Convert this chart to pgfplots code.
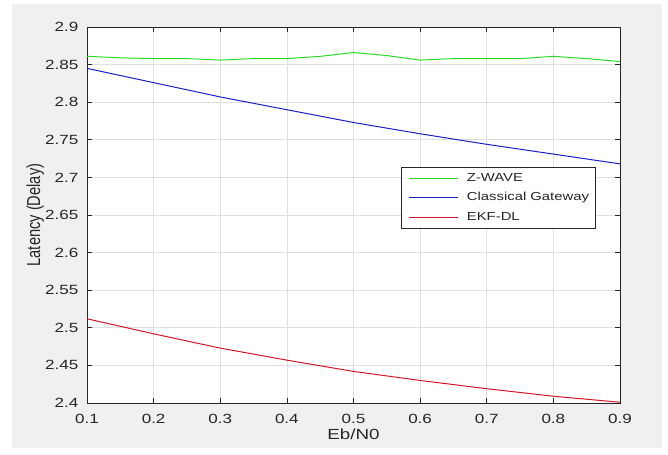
\documentclass[border=0pt]{standalone}
\usepackage{pgfplots}
\pgfplotsset{compat=1.18}
\usepackage{graphicx}
\usepackage{fontspec}
\setmainfont[FakeStretch=1.28]{Liberation Sans}
\newfontfamily\plainfont{Liberation Sans}
\definecolor{figgrey}{RGB}{240,240,240}
\definecolor{axgrey}{RGB}{38,38,38}
\definecolor{gridgrey}{RGB}{223,223,223}
\definecolor{mgreen}{RGB}{40,220,40}
\definecolor{mblue}{RGB}{30,30,200}
\definecolor{mred}{RGB}{215,20,40}
\begin{document}
\begin{tikzpicture}
\path[use as bounding box] (-65.25pt,-38.25pt) rectangle (435.75pt,302.25pt);
\fill[figgrey] (-56.25pt,-33.75pt) rectangle (431.25pt,299.25pt);
\begin{axis}[
  at={(0pt,0pt)}, anchor=south west,
  scale only axis, width=399.75pt, height=282pt,
  xmin=0.1, xmax=0.9, ymin=2.4, ymax=2.9,
  xtick={0.1,0.2,...,0.9},
  ytick={2.4,2.45,...,2.9},
  xticklabels={0.1,0.2,0.3,0.4,0.5,0.6,0.7,0.8,0.9},
  yticklabels={2.4,2.45,2.5,2.55,2.6,2.65,2.7,2.75,2.8,2.85,2.9},
  axis background/.style={fill=white},
  axis line style={axgrey, line width=0.6pt},
  tick style={axgrey, line width=0.5pt},
  tick align=inside, major tick length=4pt,
  xtick pos=both, ytick pos=both,
  grid=major, major grid style={gridgrey, line width=0.5pt},
  ticklabel style={font=\fontsize{10}{12}\selectfont, text=axgrey},
  xticklabel style={yshift=-5pt},
  yticklabel style={xshift=-3pt},
  xlabel={Eb/N0}, ylabel={\scalebox{1}[1.28]{\plainfont Latency (Delay)}},
  label style={font=\fontsize{11}{13}\selectfont, text=axgrey},
  xlabel style={yshift=3pt},
  ylabel style={yshift=-6pt},
  legend style={at={(0.589,0.628)}, anchor=north west, draw=axgrey, line width=0.5pt,
    font=\fontsize{8.7}{10.5}\selectfont, text=axgrey, row sep=3pt, inner sep=2.5pt},
  legend cell align=left,
  legend image code/.code={\path (0pt,0pt) (44pt,0pt); \draw[#1] (3pt,0pt) -- (40pt,0pt);},
]
\addplot[mgreen, line width=0.75pt] coordinates {
(0.1,2.861) (0.15,2.859) (0.2,2.858) (0.25,2.858) (0.3,2.856) (0.35,2.858) (0.4,2.858) (0.45,2.861)
(0.5,2.866) (0.55,2.862) (0.6,2.856) (0.65,2.858) (0.7,2.858) (0.75,2.858) (0.8,2.861) (0.85,2.858) (0.9,2.854)};
\addlegendentry{Z-WAVE}
\addplot[mblue, line width=0.75pt] coordinates {
(0.1,2.845) (0.2,2.826) (0.3,2.807) (0.4,2.790) (0.5,2.773) (0.6,2.758) (0.7,2.744) (0.8,2.731) (0.9,2.718)};
\addlegendentry{Classical Gateway}
\addplot[mred, line width=0.75pt] coordinates {
(0.1,2.512) (0.2,2.492) (0.3,2.473) (0.4,2.457) (0.5,2.442) (0.6,2.430) (0.7,2.419) (0.8,2.409) (0.9,2.401)};
\addlegendentry{EKF-DL}
\end{axis}
\end{tikzpicture}
\end{document}
